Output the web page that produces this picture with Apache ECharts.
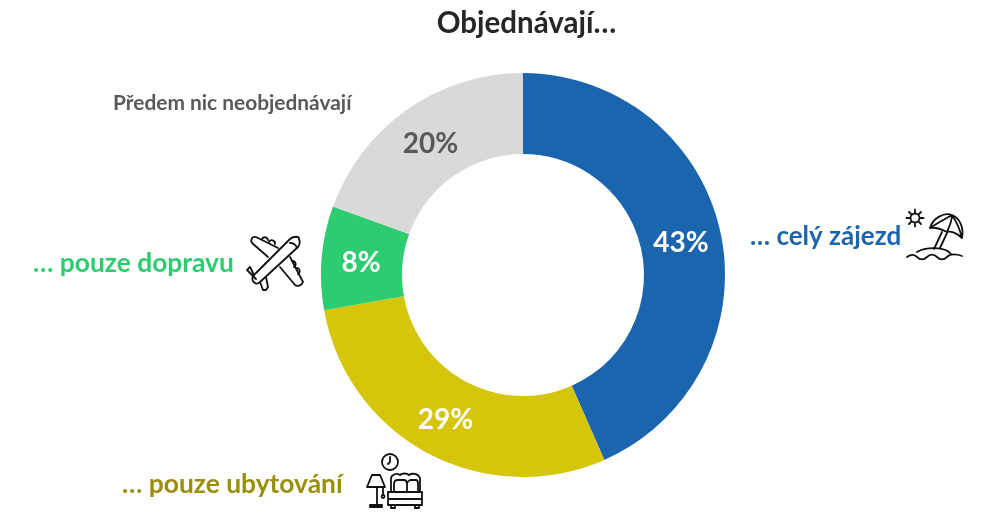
<!DOCTYPE html>
<html><head><meta charset="utf-8">
<style>html,body{margin:0;padding:0;background:#fff}#c{width:995px;height:532px}</style>
<script src="https://cdn.jsdelivr.net/npm/echarts@6/dist/echarts.min.js"></script>
</head><body><div id="c"></div>
<script>
const titleText = 'Objednávají…';
const categories = ['… celý zájezd', '… pouze ubytování', '… pouze dopravu', 'Předem nic neobjednávají'];
const values = [43.4, 28.8, 8.3, 19.5];
const sliceColors = ['#1A65AD', '#D5C50B', '#2ECC71', '#D9D9D9'];
const pctColors = ['#fff', '#fff', '#fff', '#595959'];
const nameColors = ['#1A65AD', '#998F0A', '#2ECC71', '#595959'];
const nameSizes = [26, 26.4, 26.4, 20.9];
const nameAnchors = [[750, 237], [122, 484], [33, 263], [113, 103]];
const pctNudge = [[-3, 2], [0, 0], [2, 2], [2, 4]];

const FONT = 'Lato, "Open Sans", sans-serif';
const icons = [
 'M919.5 218a4.5 4.5 0 1 1-9 0a4.5 4.5 0 1 1 9 0M915 209.5v3M915 223.5v3M906.5 218h3M920.5 218h3M909 212l2 2M919 222l2 2M909 224l2-2M919 214l2-2',
 'M930 228C933 218 944 212 952 215C960 218 964 228 962 238C956 232 950 231 947 232C941 229 935 227 930 228ZM930 228C936 224 940 222 952 215C952 222 949 227 947 232M952 215C957 222 960 230 962 238M942 232L934 249M947 233L940 248',
 'M917 252C925 247 945 246 951 254M907 257C911 254 914 254 917 257C920 260 924 260 927 257C930 254 934 254 937 257C940 260 944 260 947 257C950 254 956 254 962 256',
 // plane: fuselage
 'M290 239C294 236 299 236 299 239C300 241 300 244 298 247L260 282C257 285 254 283 253 281C252 279 252 277 254 275Z',
 // plane: wings, engines, tail, cockpit
 'M268 257L252 243C250 240 252 236 256 237L278 248M280 267L295 285C298 287 302 285 303 282L290 257' +
 'M262 239a3.2 3.2 0 0 1 6 1M269 242a3.2 3.2 0 0 1 6 2M293 261a3.2 3.2 0 0 1 1 6M297 268a3.2 3.2 0 0 1 1 6' +
 'M254 275L250 267L247 270L256 279M260 282L263 290L266 290L268 287L266 277M290 243C293 243 296 245 297 248',
 // clock
 'M398 462a8 8 0 1 1-16 0a8 8 0 1 1 16 0M390 457v5l-2 2',
 // lamp
 'M372 475h8l5 12h-18zM377 487v18M370 507v-2h12v2zM383 487v8a1.5 1.5 0 1 0 0.1 0',
 // bed
 'M391 492v-14c1-4 6-5 9-3c2-2 7-2 9 0c3-2 9-2 11 3v14M388 492h34v13h-34zM388 499h34M391 505v3h4v-3M415 505v3h4v-3M394 492v-8c0-3 2-4 4-4h6c2 0 3 2 3 5v7M407 492v-7c0-3 2-5 4-5h5c2 0 2 2 2 4v8'
];

const chart = echarts.init(document.getElementById('c'), null, {renderer: 'canvas'});
chart.setOption({
  animation: false,
  backgroundColor: '#fff',
  title: {
    text: titleText, left: 521.5, top: 3, textAlign: 'center',
    textStyle: {fontFamily: FONT, fontSize: 29.5, fontWeight: 'bold', color: '#262626'}
  },
  series: [{
    type: 'pie',
    center: [523, 275],
    radius: [121, 202],
    startAngle: 90,
    clockwise: true,
    silent: true,
    data: categories.map((n, i) => ({
      name: n, value: values[i],
      itemStyle: {color: sliceColors[i]},
      label: {color: pctColors[i]}
    })),
    label: {
      show: true, position: 'inside',
      formatter: p => Math.round(p.value) + '%',
      fontFamily: FONT, fontSize: 28, fontWeight: 'bold'
    },
    labelLayout: p => ({dx: pctNudge[p.dataIndex][0], dy: pctNudge[p.dataIndex][1]}),
    labelLine: {show: false}
  }, {
    type: 'custom',
    coordinateSystem: 'none',
    silent: true,
    clip: false,
    data: [[0]],
    renderItem: () => ({
      type: 'group',
      children: icons.map(d => ({
        type: 'path',
        shape: {pathData: d},
        style: {fill: 'none', stroke: '#111', lineWidth: 1.8, lineJoin: 'round', lineCap: 'round'}
      }))
    })
  }],
  graphic: categories.map((n, i) => ({
    type: 'text', x: nameAnchors[i][0], y: nameAnchors[i][1],
    style: {text: n, fontFamily: FONT, fontSize: nameSizes[i], fontWeight: 'bold',
            fill: nameColors[i], verticalAlign: 'middle'}
  }))
});
</script></body></html>
